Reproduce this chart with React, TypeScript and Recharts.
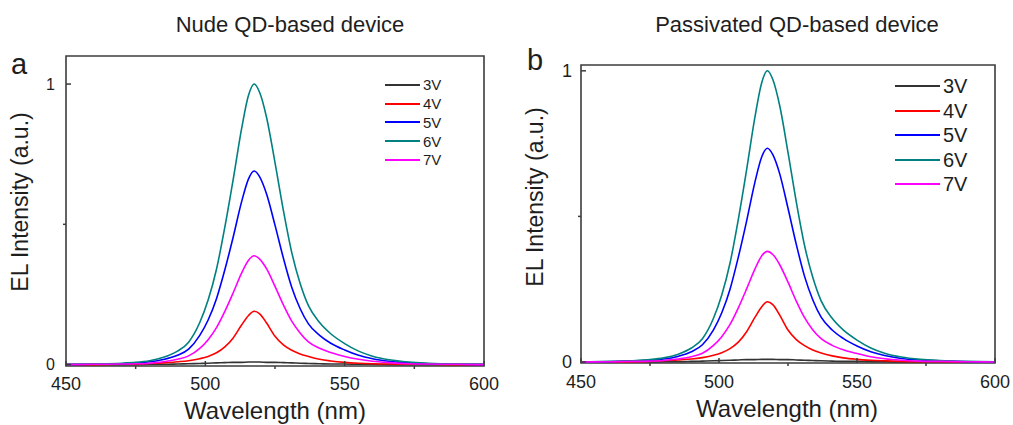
import { Legend, Line, LineChart, ReferenceArea, XAxis, YAxis } from "recharts";

const wavelength = [
  450, 460, 470, 475, 480, 485, 490, 494, 498, 501, 504, 507, 510, 513, 515.5, 517.5, 519.5,
  522, 525, 528, 531, 534, 537, 541, 545, 550, 555, 560, 566, 573, 580, 590, 600,
];

// nude QD device
const nude3V = [
  0, 0, 0, 0, 0.001, 0.001, 0.002, 0.003, 0.004, 0.005, 0.006, 0.007, 0.008, 0.008, 0.009, 0.009,
  0.009, 0.008, 0.008, 0.007, 0.006, 0.005, 0.004, 0.003, 0.002, 0.002, 0.001, 0.001, 0, 0, 0, 0, 0,
];
const nude4V = [
  0, 0, 0.001, 0.002, 0.004, 0.006, 0.01, 0.014, 0.021, 0.029, 0.042, 0.063, 0.095, 0.141, 0.175,
  0.19, 0.181, 0.148, 0.101, 0.07, 0.051, 0.038, 0.029, 0.019, 0.013, 0.008, 0.005, 0.003, 0.002,
  0.001, 0.001, 0, 0,
];
const nude5V = [
  0, 0.001, 0.003, 0.006, 0.01, 0.018, 0.033, 0.055, 0.104, 0.159, 0.235, 0.338, 0.455, 0.58, 0.662,
  0.69, 0.669, 0.607, 0.497, 0.38, 0.276, 0.2, 0.145, 0.104, 0.076, 0.052, 0.033, 0.021, 0.012,
  0.006, 0.003, 0.001, 0,
];
const nude6V = [
  0, 0.002, 0.005, 0.008, 0.014, 0.026, 0.048, 0.08, 0.15, 0.23, 0.34, 0.49, 0.66, 0.84, 0.96, 1.0,
  0.97, 0.88, 0.72, 0.55, 0.4, 0.29, 0.21, 0.15, 0.11, 0.075, 0.048, 0.03, 0.017, 0.009, 0.005,
  0.002, 0.001,
];
const nude7V = [
  0, 0.001, 0.002, 0.003, 0.005, 0.01, 0.019, 0.031, 0.058, 0.089, 0.132, 0.19, 0.256, 0.326, 0.372,
  0.388, 0.376, 0.341, 0.279, 0.213, 0.155, 0.113, 0.081, 0.058, 0.043, 0.029, 0.019, 0.012, 0.007,
  0.003, 0.002, 0.001, 0,
];

// passivated QD device
const pass3V = [
  0, 0, 0, 0, 0.001, 0.001, 0.002, 0.003, 0.004, 0.005, 0.006, 0.007, 0.008, 0.008, 0.009, 0.009,
  0.009, 0.008, 0.008, 0.007, 0.006, 0.005, 0.004, 0.003, 0.002, 0.002, 0.001, 0.001, 0, 0, 0, 0, 0,
];
const pass4V = [
  0, 0, 0.001, 0.002, 0.004, 0.007, 0.01, 0.015, 0.023, 0.032, 0.046, 0.068, 0.104, 0.153, 0.19,
  0.207, 0.197, 0.161, 0.11, 0.077, 0.056, 0.041, 0.031, 0.021, 0.014, 0.009, 0.006, 0.004, 0.002,
  0.001, 0.001, 0, 0,
];
const pass5V = [
  0, 0.001, 0.004, 0.006, 0.01, 0.019, 0.035, 0.059, 0.11, 0.169, 0.25, 0.36, 0.484, 0.617, 0.705,
  0.734, 0.712, 0.646, 0.528, 0.404, 0.294, 0.213, 0.154, 0.11, 0.081, 0.055, 0.035, 0.022, 0.012,
  0.007, 0.004, 0.001, 0,
];
const pass6V = [
  0, 0.002, 0.005, 0.008, 0.014, 0.026, 0.048, 0.08, 0.15, 0.23, 0.34, 0.49, 0.66, 0.84, 0.96, 1.0,
  0.97, 0.88, 0.72, 0.55, 0.4, 0.29, 0.21, 0.15, 0.11, 0.075, 0.048, 0.03, 0.017, 0.009, 0.005,
  0.002, 0.001,
];
const pass7V = [
  0, 0.001, 0.002, 0.003, 0.005, 0.01, 0.018, 0.03, 0.057, 0.087, 0.129, 0.186, 0.251, 0.319, 0.365,
  0.38, 0.369, 0.334, 0.274, 0.209, 0.152, 0.11, 0.08, 0.057, 0.042, 0.029, 0.018, 0.011, 0.006,
  0.003, 0.002, 0.001, 0,
];

const VOLTAGES = ["3V", "4V", "5V", "6V", "7V"];
const COLORS = ["#333333", "#ff0000", "#0000ff", "#008080", "#ff00ff"];
const X_TICKS = [450, 475, 500, 525, 550, 575, 600];
const X_MAJOR = [450, 500, 550, 600];
const Y_TICKS = [0, 0.5, 1];
const Y_MAJOR = [0, 1];

const FONT = "'Liberation Sans', Arial, sans-serif";
const FRAME = "#3c3c3c";
const TEXT = "#1e1e1e";

function buildRows(series: number[][]) {
  return wavelength.map((w, i) => {
    const row: Record<string, number> = { w };
    VOLTAGES.forEach((v, k) => {
      row[v] = series[k][i];
    });
    return row;
  });
}

const nudeRows = buildRows([nude3V, nude4V, nude5V, nude6V, nude7V]);
const passRows = buildRows([pass3V, pass4V, pass5V, pass6V, pass7V]);

function XTick({ x, y, payload, fontSize, labelGap }: any) {
  const major = X_MAJOR.includes(payload.value);
  return (
    <g>
      {major ? (
        <line x1={x} x2={x} y1={y} y2={y - 5} stroke={FRAME} strokeWidth={1.5} />
      ) : (
        <line x1={x} x2={x} y1={y} y2={y + 3} stroke={FRAME} strokeWidth={1.5} />
      )}
      {major && (
        <text x={x} y={y + labelGap} textAnchor="middle" fontSize={fontSize} fill={TEXT}>
          {payload.value}
        </text>
      )}
    </g>
  );
}

function YTick({ x, y, payload, fontSize, labelGap }: any) {
  const major = Y_MAJOR.includes(payload.value);
  return (
    <g>
      {major ? (
        <line x1={x} x2={x + 5} y1={y} y2={y} stroke={FRAME} strokeWidth={1.5} />
      ) : (
        <line x1={x} x2={x - 3} y1={y} y2={y} stroke={FRAME} strokeWidth={1.5} />
      )}
      {major && (
        <text x={x - labelGap} y={y + fontSize * 0.36} textAnchor="end" fontSize={fontSize} fill={TEXT}>
          {payload.value}
        </text>
      )}
    </g>
  );
}

function LegendList({ lineLen, fontSize, rowH }: { lineLen: number; fontSize: number; rowH: number }) {
  return (
    <div style={{ fontFamily: FONT, color: TEXT }}>
      {VOLTAGES.map((v, i) => (
        <div key={v} style={{ display: "flex", alignItems: "center", height: rowH }}>
          <span style={{ width: lineLen, borderTop: `2px solid ${COLORS[i]}` }} />
          <span style={{ marginLeft: 3, fontSize, lineHeight: 1 }}>{v}</span>
        </div>
      ))}
    </div>
  );
}

type PanelProps = {
  rows: Record<string, number>[];
  left: number;
  width: number;
  top: number;
  bottom: number;
  plotLeft: number;
  plotRight: number;
  yDomain: [number, number];
  xFont: number;
  yFont: number;
  xGap: number;
  yGap: number;
  legend: { left: number; top: number; lineLen: number; fontSize: number; rowH: number };
};

function Panel(p: PanelProps) {
  const height = 425;
  return (
    <div style={{ position: "absolute", left: p.left, top: 0 }}>
      <LineChart
        width={p.width}
        height={height}
        data={p.rows}
        margin={{ top: p.top, right: p.width - p.plotRight, left: 0, bottom: 0 }}
        style={{ fontFamily: FONT }}
      >
        <XAxis
          dataKey="w"
          type="number"
          domain={[450, 600]}
          ticks={X_TICKS}
          interval={0}
          height={height - p.bottom}
          axisLine={false}
          tickLine={false}
          tickSize={0}
          tickMargin={0}
          tick={<XTick fontSize={p.xFont} labelGap={p.xGap} />}
          allowDataOverflow
        />
        <YAxis
          type="number"
          domain={p.yDomain}
          ticks={Y_TICKS}
          interval={0}
          width={p.plotLeft}
          axisLine={false}
          tickLine={false}
          tickSize={0}
          tickMargin={0}
          tick={<YTick fontSize={p.yFont} labelGap={p.yGap} />}
          allowDataOverflow
        />
        <ReferenceArea
          x1={450}
          x2={600}
          y1={p.yDomain[0]}
          y2={p.yDomain[1]}
          fill="none"
          stroke={FRAME}
          strokeWidth={1.6}
          ifOverflow="visible"
        />
        {VOLTAGES.map((v, i) => (
          <Line
            key={v}
            dataKey={v}
            type="monotone"
            stroke={COLORS[i]}
            strokeWidth={1.6}
            dot={false}
            isAnimationActive={false}
          />
        ))}
        <Legend
          layout="vertical"
          align="center"
          verticalAlign="middle"
          wrapperStyle={{ left: p.legend.left, top: p.legend.top, width: 90 }}
          content={() => (
            <LegendList lineLen={p.legend.lineLen} fontSize={p.legend.fontSize} rowH={p.legend.rowH} />
          )}
        />
      </LineChart>
    </div>
  );
}

const abs = (x: number, y: number): React.CSSProperties => ({
  position: "absolute",
  left: x,
  top: y,
  whiteSpace: "nowrap",
  lineHeight: 1,
});

export default function App() {
  return (
    <div
      style={{
        position: "absolute",
        left: 0,
        top: 0,
        width: 1013,
        height: 425,
        background: "#fff",
        fontFamily: FONT,
        color: TEXT,
        overflow: "hidden",
      }}
    >
      <Panel
        rows={nudeRows}
        left={0}
        width={500}
        top={56}
        bottom={366}
        plotLeft={66}
        plotRight={484}
        yDomain={[-0.005, 1.1]}
        xFont={18}
        yFont={16}
        xGap={24}
        yGap={11}
        legend={{ left: 385, top: 75.5, lineLen: 35, fontSize: 15, rowH: 18.75 }}
      />
      <Panel
        rows={passRows}
        left={500}
        width={513}
        top={65}
        bottom={363}
        plotLeft={81}
        plotRight={495}
        yDomain={[-0.0035, 1.02]}
        xFont={18}
        yFont={18}
        xGap={25}
        yGap={9}
        legend={{ left: 395, top: 74, lineLen: 45, fontSize: 20, rowH: 24.5 }}
      />

      <div style={{ ...abs(290, 14), transform: "translateX(-50%)", fontSize: 22 }}>Nude QD-based device</div>
      <div style={{ ...abs(797, 14), transform: "translateX(-50%)", fontSize: 22 }}>
        Passivated QD-based device
      </div>

      <div style={{ ...abs(11, 50), fontSize: 29 }}>a</div>
      <div style={{ ...abs(527, 46), fontSize: 29 }}>b</div>

      <div style={{ ...abs(275, 399), transform: "translateX(-50%)", fontSize: 24 }}>Wavelength (nm)</div>
      <div style={{ ...abs(787, 397), transform: "translateX(-50%)", fontSize: 24 }}>Wavelength (nm)</div>

      <div
        style={{
          ...abs(20, 202),
          fontSize: 23,
          transform: "translate(-50%, -50%) rotate(-90deg)",
        }}
      >
        EL Intensity (a.u.)
      </div>
      <div
        style={{
          ...abs(535, 197),
          fontSize: 23,
          transform: "translate(-50%, -50%) rotate(-90deg)",
        }}
      >
        EL Intensity (a.u.)
      </div>
    </div>
  );
}
